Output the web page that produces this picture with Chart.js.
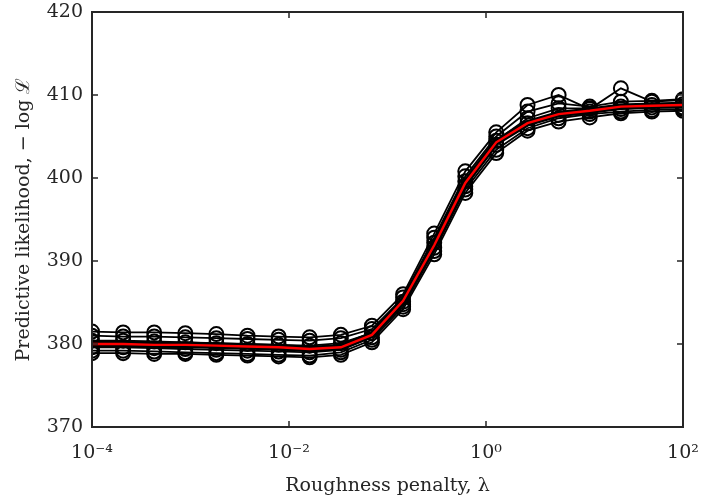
<!DOCTYPE html>
<html>
<head>
<meta charset="utf-8">
<script src="https://cdn.jsdelivr.net/npm/chart.js@4"></script>
<style>
  html, body { margin: 0; padding: 0; background: #fff; }
  #wrap { width: 719px; height: 502px; }
</style>
</head>
<body>
<div id="wrap"><canvas id="lik"></canvas></div>
<script>
//Data//
const lambda = [1.0e-4, 2.07e-4, 4.28e-4, 8.86e-4, 1.83e-3, 3.79e-3, 7.85e-3, 1.62e-2, 3.36e-2, 6.95e-2,
  0.144, 0.298, 0.616, 1.27, 2.64, 5.46, 11.3, 23.4, 48.3, 100];

const run1 = [381.5, 381.4, 381.4, 381.3, 381.2, 381.0, 380.9, 380.8, 381.1, 382.2, 386.0, 393.3, 400.8, 405.5, 408.8, 410.0, 408.3, 410.8, 409.2, 409.4];
const run2 = [381.0, 380.9, 380.9, 380.8, 380.7, 380.6, 380.5, 380.4, 380.7, 381.8, 385.6, 392.8, 400.2, 405.0, 408.0, 409.0, 408.6, 409.2, 409.3, 409.5];
const run3 = [380.4, 380.4, 380.3, 380.2, 380.1, 380.0, 379.9, 379.8, 380.1, 381.3, 385.1, 392.2, 399.6, 404.5, 407.2, 408.4, 408.4, 408.6, 408.8, 408.9];
const run4 = [379.6, 379.6, 379.5, 379.4, 379.3, 379.2, 379.1, 379.0, 379.3, 380.8, 384.8, 391.6, 399.0, 404.0, 406.6, 407.6, 408.0, 408.3, 408.5, 408.5];
const run5 = [379.2, 379.2, 379.1, 379.0, 378.9, 378.8, 378.7, 378.6, 379.0, 380.5, 384.5, 391.2, 398.6, 403.4, 406.0, 407.2, 407.7, 408.0, 408.2, 408.3];
const run6 = [378.9, 378.9, 378.8, 378.8, 378.7, 378.6, 378.5, 378.4, 378.7, 380.2, 384.2, 390.8, 398.2, 403.0, 405.7, 406.8, 407.3, 407.8, 408.0, 408.1];
const meanRun = [380.0, 380.0, 379.9, 379.9, 379.8, 379.7, 379.6, 379.4, 379.6, 381.1, 385.2, 391.9, 399.4, 404.3, 406.6, 407.7, 408.1, 408.6, 408.7, 408.8];

const xTicks = [1e-4, 1e-2, 1, 100];
const xTickLabels = ["10⁻⁴", "10⁻²", "10⁰", "10²"];
const yTicks = [370, 380, 390, 400, 410, 420];
//Akhir Data//

const serif = "'DejaVu Serif', 'Liberation Serif', serif";
const axisColor = "#262626";

function pts(ys) {
  return ys.map((y, i) => ({ x: lambda[i], y: y }));
}

const runs = [run1, run2, run3, run4, run5, run6];
const datasets = [
  {
    label: "mean",
    data: pts(meanRun),
    borderColor: "rgb(255, 0, 0)",
    borderWidth: 2.4,
    pointRadius: 0,
    order: 0,
  },
  {
    label: "mean outline",
    data: pts(meanRun),
    borderColor: "#000",
    borderWidth: 6.5,
    pointRadius: 0,
    order: 1,
  },
];
runs.forEach((r, i) => {
  datasets.push({
    label: "run " + (i + 1),
    data: pts(r),
    borderColor: "#000",
    borderWidth: 1.8,
    pointRadius: 7,
    pointBorderWidth: 2,
    pointBackgroundColor: "rgba(0,0,0,0)",
    pointBorderColor: "#000",
    order: 2,
  });
});

// frame and inward ticks, like the original figure
const framePlugin = {
  id: "frame",
  afterDraw(chart) {
    const ctx = chart.ctx;
    const a = chart.chartArea;
    const xs = chart.scales.x;
    const ys = chart.scales.y;
    ctx.save();
    ctx.strokeStyle = axisColor;
    ctx.lineWidth = 2;
    ctx.strokeRect(a.left, a.top, a.right - a.left, a.bottom - a.top);
    ctx.lineWidth = 1.5;
    ctx.beginPath();
    xTicks.slice(1, -1).forEach((v) => {
      const px = xs.getPixelForValue(v);
      ctx.moveTo(px, a.bottom);
      ctx.lineTo(px, a.bottom - 6);
      ctx.moveTo(px, a.top);
      ctx.lineTo(px, a.top + 6);
    });
    yTicks.slice(1, -1).forEach((v) => {
      const py = ys.getPixelForValue(v);
      ctx.moveTo(a.left, py);
      ctx.lineTo(a.left + 6, py);
      ctx.moveTo(a.right, py);
      ctx.lineTo(a.right - 6, py);
    });
    ctx.stroke();
    ctx.restore();
  },
};

const config = {
  type: "line",
  data: { datasets: datasets },
  options: {
    responsive: true,
    maintainAspectRatio: false,
    animation: false,
    layout: { padding: { top: 12, right: 36, left: 0, bottom: 0 } },
    plugins: {
      legend: { display: false },
      tooltip: { enabled: false },
    },
    scales: {
      x: {
        type: "logarithmic",
        min: 1e-4,
        max: 100,
        afterBuildTicks: (scale) => {
          scale.ticks = xTicks.map((v) => ({ value: v }));
        },
        afterFit: (scale) => { scale.height = 75; },
        grid: { display: false, drawTicks: false },
        border: { display: false },
        ticks: {
          autoSkip: false,
          maxRotation: 0,
          padding: 15,
          color: axisColor,
          font: { family: serif, size: 19 },
          callback: (v) => {
            const k = xTicks.indexOf(v);
            return k >= 0 ? xTickLabels[k] : "";
          },
        },
        title: {
          display: true,
          text: "Roughness penalty, λ",
          color: axisColor,
          font: { family: serif, size: 19 },
          padding: { top: 2, bottom: 5 },
        },
      },
      y: {
        min: 370,
        max: 420,
        afterBuildTicks: (scale) => {
          scale.ticks = yTicks.map((v) => ({ value: v }));
        },
        afterFit: (scale) => {
          scale.width = 92;
          scale.paddingTop = 0;
          scale.paddingBottom = 0;
        },
        grid: { display: false, drawTicks: false },
        border: { display: false },
        ticks: {
          padding: 9,
          color: axisColor,
          font: { family: serif, size: 19 },
        },
        title: {
          display: true,
          text: "Predictive likelihood, − log ℒ",
          color: axisColor,
          font: { family: serif, size: 19 },
          padding: { top: 13, bottom: 0 },
        },
      },
    },
  },
  plugins: [framePlugin],
};

const likChart = new Chart(document.getElementById("lik").getContext("2d"), config);
</script>
</body>
</html>
